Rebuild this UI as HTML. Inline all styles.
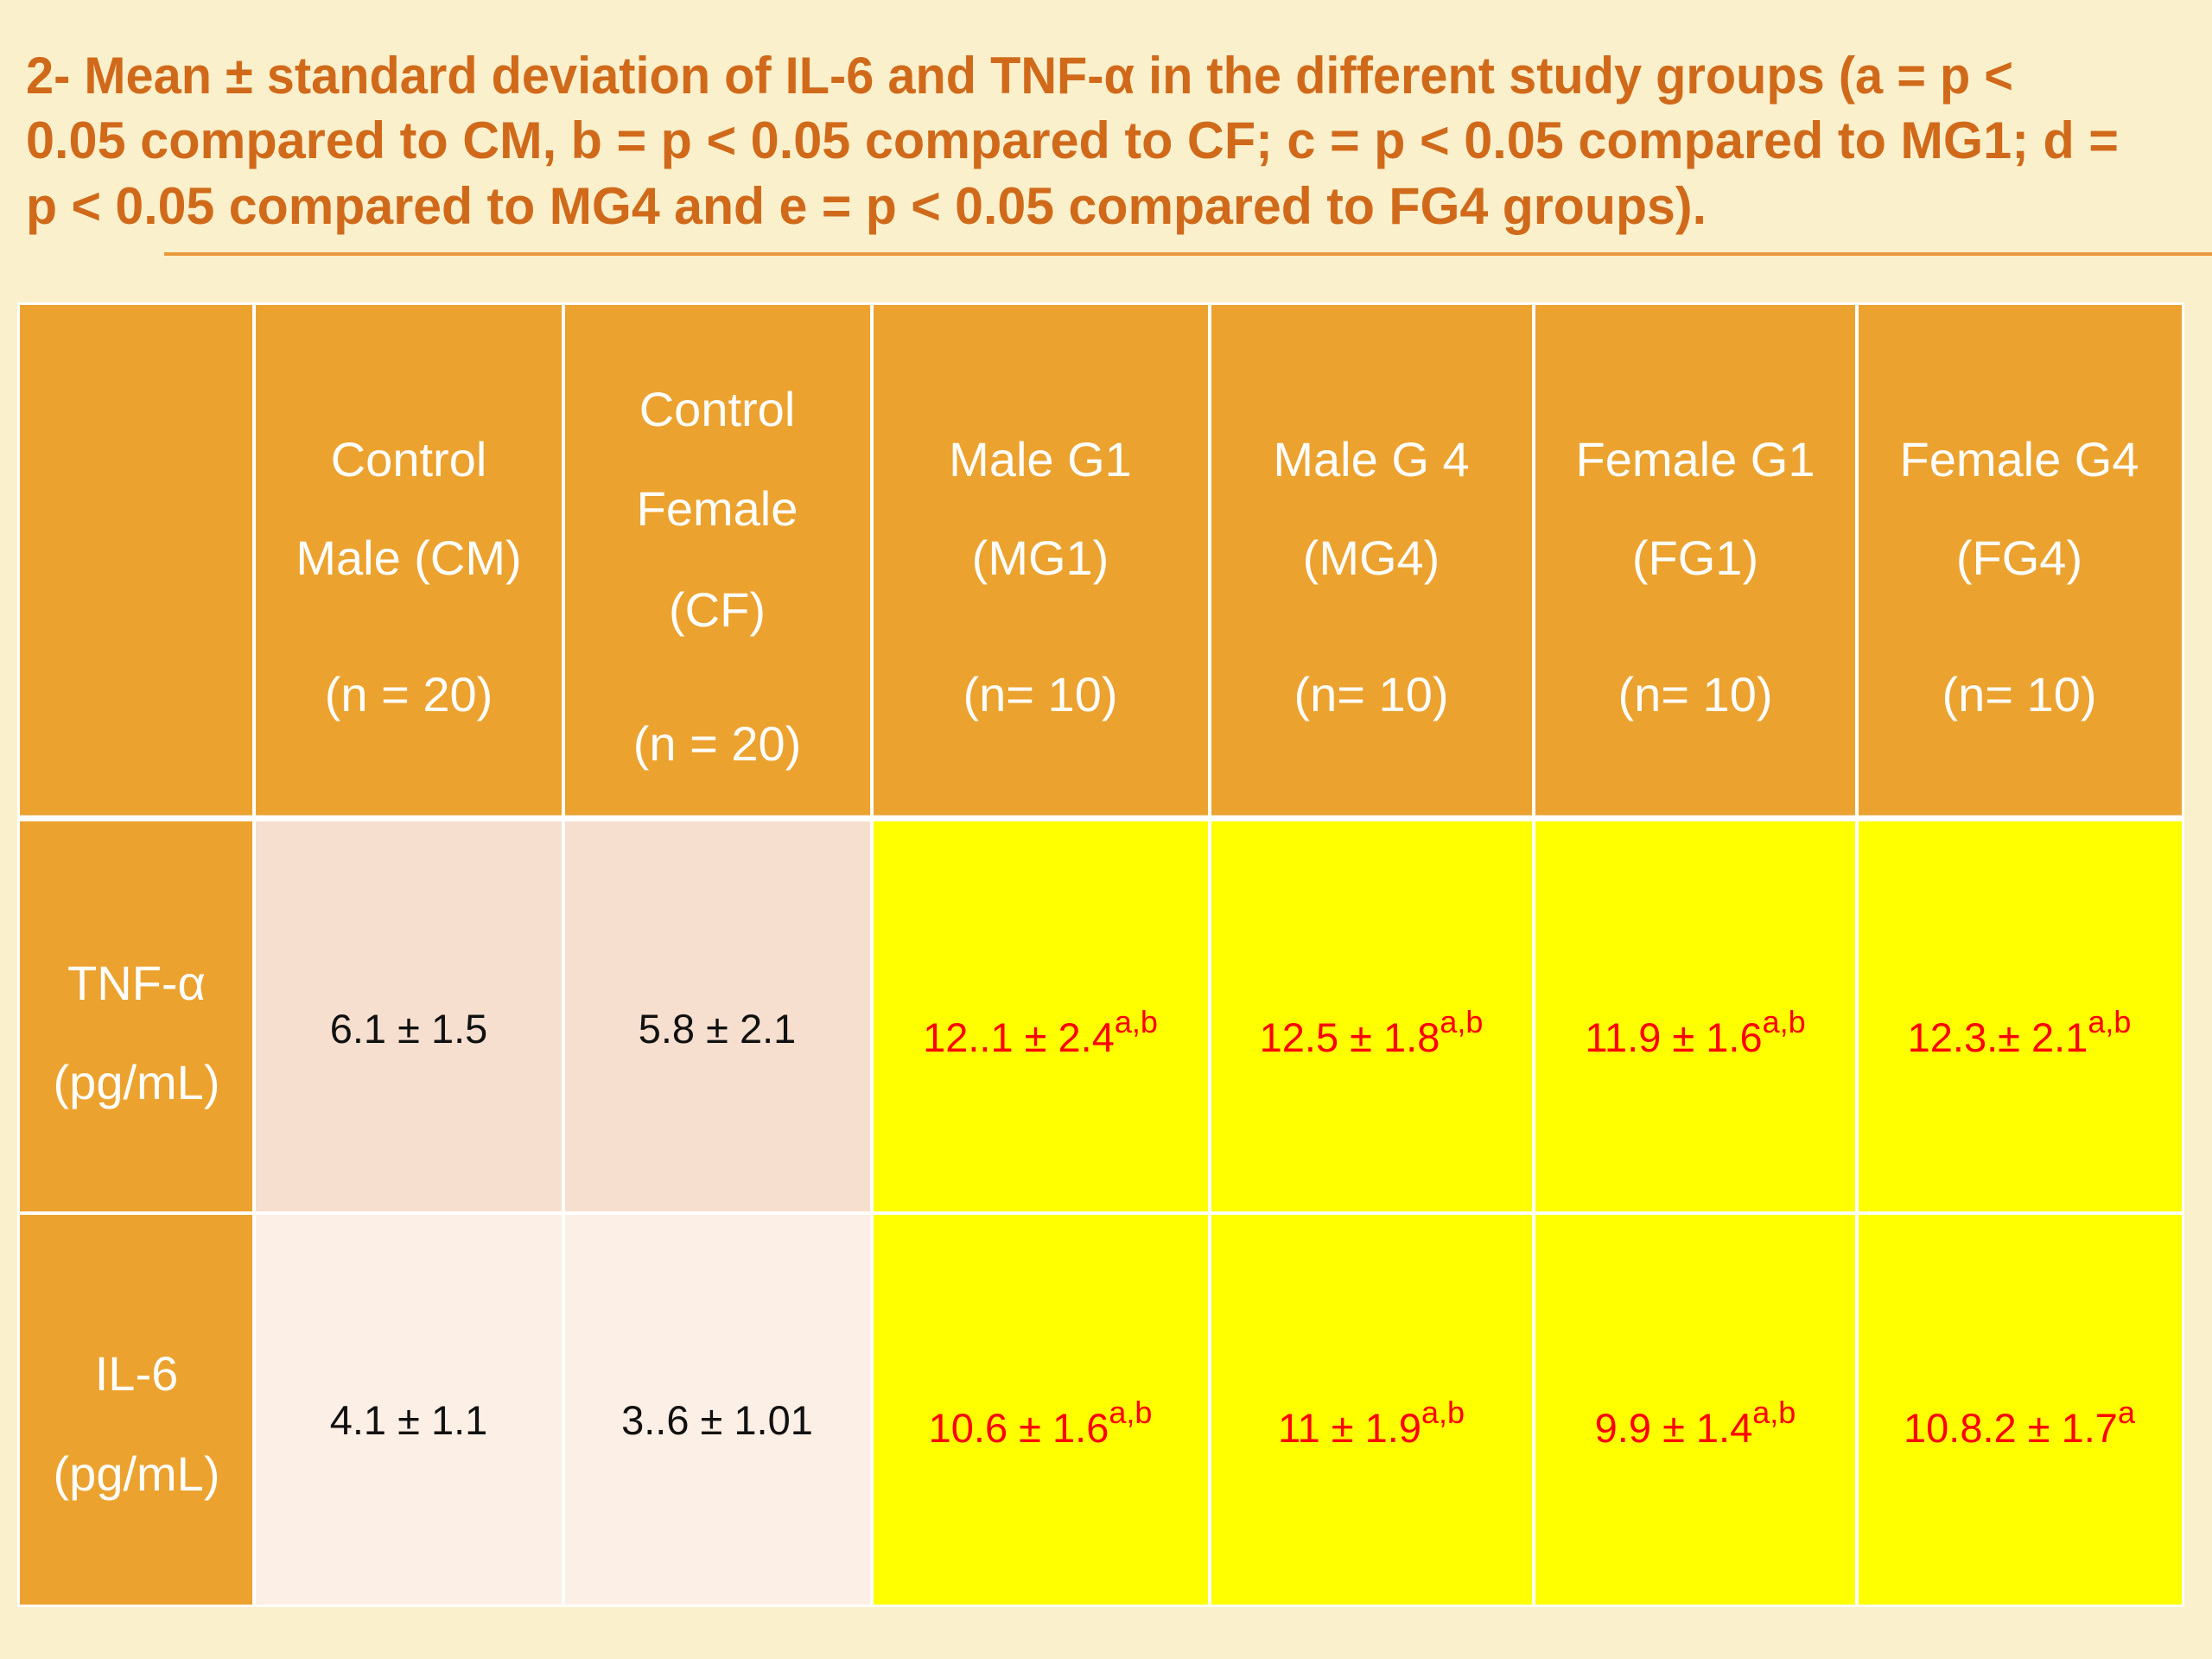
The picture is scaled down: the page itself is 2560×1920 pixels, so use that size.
<!DOCTYPE html>
<html><head><meta charset="utf-8"><style>
html,body{margin:0;padding:0;background:#fbf0cc;}
svg{display:block}
.t{font-family:"Liberation Sans",sans-serif;font-weight:bold;font-size:60px;fill:#d06a1a;}
.h{font-family:"Liberation Sans",sans-serif;font-size:56px;fill:#ffffff;text-anchor:middle;}
.v{font-family:"Liberation Sans",sans-serif;font-size:47px;fill:#111;text-anchor:middle;}
.r{font-family:"Liberation Sans",sans-serif;font-size:47px;fill:#ff0000;text-anchor:middle;}
</style></head><body>
<svg width="2560" height="1920" viewBox="0 0 2560 1920">
<rect x="0" y="0" width="2560" height="1920" fill="#fbf0cc"/>
<g>
<text class="t" x="30" y="108" textLength="2300" lengthAdjust="spacingAndGlyphs">2- Mean ± standard deviation of IL-6 and TNF-α in the different study groups (a = p &lt;</text>
<text class="t" x="30" y="183" textLength="2422" lengthAdjust="spacingAndGlyphs">0.05 compared to CM,  b = p &lt; 0.05 compared to CF; c = p &lt; 0.05 compared to MG1; d =</text>
<text class="t" x="30" y="259" textLength="1945" lengthAdjust="spacingAndGlyphs">p &lt; 0.05 compared to MG4 and e = p &lt; 0.05 compared to FG4 groups).</text>
</g>
<rect x="190" y="292" width="2370" height="4" fill="#e89a3a"/>
<g>
<rect x="20" y="350" width="2508" height="1510" fill="#ffffff"/>
<rect x="23" y="353" width="2502" height="594" fill="#eca22e"/>
<rect x="23" y="947" width="271" height="910" fill="#eca22e"/>
<rect x="294" y="947" width="715" height="457" fill="#f7dfcf"/>
<rect x="294" y="1404" width="715" height="453" fill="#fcefe6"/>
<rect x="1009" y="947" width="1516" height="910" fill="#ffff00"/>
<g stroke="#ffffff" stroke-width="4">
<line x1="294" y1="353" x2="294" y2="1857"/><line x1="652" y1="353" x2="652" y2="1857"/>
<line x1="1009" y1="353" x2="1009" y2="1857"/><line x1="1400" y1="353" x2="1400" y2="1857"/>
<line x1="1775" y1="353" x2="1775" y2="1857"/><line x1="2149" y1="353" x2="2149" y2="1857"/>
<line x1="23" y1="947" x2="2525" y2="947" stroke-width="7"/><line x1="23" y1="1404" x2="2525" y2="1404"/>
</g>
<g>
<g><text class="h" x="473" y="551">Control</text><text class="h" x="473" y="665">Male (CM)</text><text class="h" x="473" y="823">(n = 20)</text></g>
<g><text class="h" x="830" y="493">Control</text><text class="h" x="830" y="608">Female</text><text class="h" x="830" y="725">(CF)</text><text class="h" x="830" y="880">(n = 20)</text></g>
<g><text class="h" x="1204" y="551">Male G1</text><text class="h" x="1204" y="665">(MG1)</text><text class="h" x="1204" y="823">(n= 10)</text></g>
<g><text class="h" x="1587" y="551">Male G 4</text><text class="h" x="1587" y="665">(MG4)</text><text class="h" x="1587" y="823">(n= 10)</text></g>
<g><text class="h" x="1962" y="551">Female G1</text><text class="h" x="1962" y="665">(FG1)</text><text class="h" x="1962" y="823">(n= 10)</text></g>
<g><text class="h" x="2337" y="551">Female G4</text><text class="h" x="2337" y="665">(FG4)</text><text class="h" x="2337" y="823">(n= 10)</text></g>
</g>
<g>
<g><text class="h" x="158" y="1157">TNF-α</text><text class="h" x="158" y="1272">(pg/mL)</text></g>
<g><text class="h" x="158" y="1609">IL-6</text><text class="h" x="158" y="1725">(pg/mL)</text></g>
</g>
<g>
<text class="v" x="473" y="1207">6.1 ± 1.5</text>
<text class="v" x="830" y="1207">5.8 ± 2.1</text>
<text class="r" x="1204" y="1217">12..1 ± 2.4<tspan font-size="36" dy="-22">a,b</tspan></text>
<text class="r" x="1587" y="1217">12.5 ± 1.8<tspan font-size="36" dy="-22">a,b</tspan></text>
<text class="r" x="1962" y="1217">11.9 ± 1.6<tspan font-size="36" dy="-22">a,b</tspan></text>
<text class="r" x="2337" y="1217">12.3.± 2.1<tspan font-size="36" dy="-22">a,b</tspan></text>
</g>
<g>
<text class="v" x="473" y="1660">4.1 ± 1.1</text>
<text class="v" x="830" y="1660">3..6 ± 1.01</text>
<text class="r" x="1204" y="1669">10.6  ± 1.6<tspan font-size="36" dy="-22">a,b</tspan></text>
<text class="r" x="1587" y="1669">11 ± 1.9<tspan font-size="36" dy="-22">a,b</tspan></text>
<text class="r" x="1962" y="1669">9.9 ± 1.4<tspan font-size="36" dy="-22">a,b</tspan></text>
<text class="r" x="2337" y="1669">10.8.2 ± 1.7<tspan font-size="36" dy="-22">a</tspan></text>
</g>
</g>
</svg>
</body></html>
